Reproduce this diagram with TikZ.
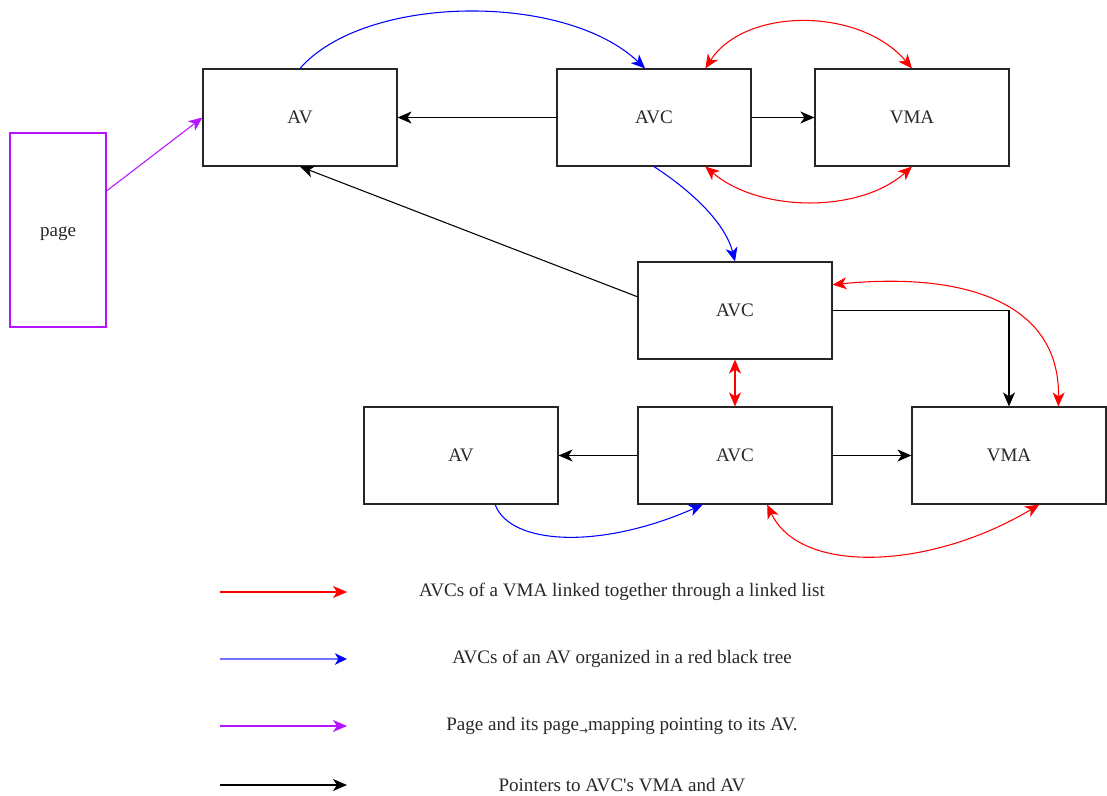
\documentclass[tikz,border=0pt]{standalone}
\usepackage{fontspec}
\setmainfont{Liberation Serif}
\newfontfamily\symfont{DejaVu Sans}
\usetikzlibrary{arrows.meta,calc}

\definecolor{linkred}{RGB}{255,0,0}
\definecolor{treeblue}{RGB}{0,0,255}
\definecolor{pagepurple}{RGB}{180,20,255}
\definecolor{ink}{RGB}{40,40,40}

\begin{document}
\begin{tikzpicture}[x=0.75pt,y=-0.75pt,
  font=\fontsize{14.3}{16}\selectfont, text=ink,
  box/.style={draw=black!85, line width=0.85pt, minimum width=145.5pt, minimum height=72.75pt, inner sep=0pt},
  pagebox/.style={draw=pagepurple, line width=0.85pt, minimum width=72pt, minimum height=145.5pt, inner sep=0pt},
  tip/.style={-{Stealth[length=10.5pt,width=9pt,inset=3pt]}},
  dtip/.style={{Stealth[length=10.5pt,width=9pt,inset=3pt]}-{Stealth[length=10.5pt,width=9pt,inset=3pt]}},
  ptr/.style={tip, draw=black, line width=0.8pt},
  tree/.style={tip, draw=treeblue, line width=0.8pt},
  list/.style={dtip, draw=linkred, line width=0.8pt},
  listone/.style={tip, draw=linkred, line width=0.8pt},
  treelegend/.style={draw=treeblue!55, line width=1.8pt, -{Stealth[length=9pt,width=8.5pt,inset=2.5pt,color=treeblue]}},
  pageln/.style={tip, draw=pagepurple, line width=0.8pt},
  legend/.style={anchor=center, inner sep=0pt}]

\useasboundingbox (0,0) rectangle (1107,796);

% upper row
\node[box] (av1)  at (300,117.5) {AV};
\node[box] (avc1) at (654,117.5) {AVC};
\node[box] (vma1) at (912,117.5) {VMA};
\node[pagebox, text height=9pt, text depth=0pt] (page) at (58,230) {page};

% lower group
\node[box] (avc2) at (735,310.5) {AVC};
\node[box] (av2)  at (461,455.5) {AV};
\node[box] (avc3) at (735,455.5) {AVC};
\node[box] (vma2) at (1009,455.5) {VMA};

% pointers to AV and VMA
\draw[ptr] (avc1.west) -- (av1.east);
\draw[ptr] (avc1.east) -- (vma1.west);
\draw[ptr] ($(avc2.north west)!0.36!(avc2.south west)$) -- (av1.south);
\draw[ptr] (avc2.east) -| (vma2.north);
\draw[ptr] (avc3.west) -- (av2.east);
\draw[ptr] (avc3.east) -- (vma2.west);

% page mapping
\draw[pageln] ($(page.north east)!0.3!(page.south east)$) -- (av1.west);

% red black tree links
\draw[tree] (av1.north) .. controls (365,-6) and (565,-8) .. ($(avc1.north west)!0.454!(avc1.north east)$);
\draw[tree] (avc1.south) .. controls (690,190) and (725,222) .. (avc2.north);
\draw[tree] ($(av2.south west)!0.675!(av2.south east)$) .. controls (510,545) and (600,550) .. ($(avc3.south west)!0.335!(avc3.south east)$);

% linked list of AVCs per VMA
\draw[list] ($(avc1.north west)!0.763!(avc1.north east)$) .. controls (745,7) and (860,7) .. (vma1.north);
\draw[list] ($(avc1.south west)!0.763!(avc1.south east)$) .. controls (760,213) and (860,213) .. (vma1.south);
\draw[list] ($(avc2.north east)!0.237!(avc2.south east)$) .. controls (960,272) and (1060,300) .. ($(vma2.north west)!0.753!(vma2.north east)$);
\draw[list] (avc2.south) -- (avc3.north);
\draw[list] ($(avc3.south west)!0.665!(avc3.south east)$) .. controls (800,575) and (930,570) .. ($(vma2.south west)!0.655!(vma2.south east)$);

% legend
\coordinate (r0) at (220,592);  \coordinate (r1) at (347,592);
\coordinate (b0) at (220,659);  \coordinate (b1) at (347,659);
\coordinate (p0) at (220,726);  \coordinate (p1) at (347,726);
\coordinate (k0) at (220,785);  \coordinate (k1) at (347,785);
\draw[listone] (r0) -- (r1);
\draw[treelegend] (b0) -- (b1);
\draw[pageln] (p0) -- (p1);
\draw[ptr] (k0) -- (k1);
\node[legend] (lr) at (622,592) {AVCs of a VMA linked together through a linked list};
\node[legend] (lb) at (622,659) {AVCs of an AV organized in a red black tree};
\node[legend] (lp) at (622,726) {Page and its page\raisebox{-0.45ex}{\symfont\fontsize{8}{8}\selectfont →}mapping pointing to its AV.};
\node[legend] (lk) at (622,785) {Pointers to AVC\textquotesingle s VMA and AV};

\end{tikzpicture}
\end{document}
